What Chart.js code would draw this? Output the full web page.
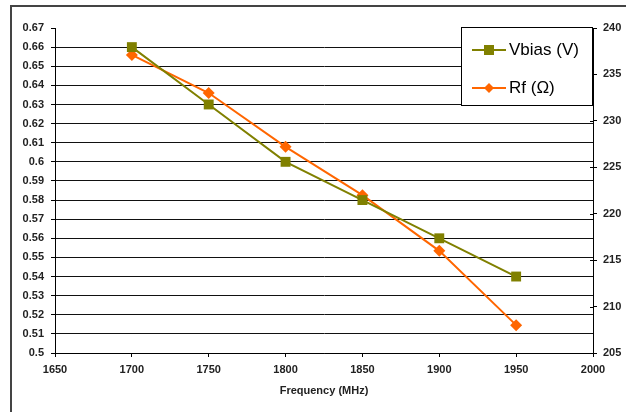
<!DOCTYPE html>
<html>
<head>
<meta charset="utf-8">
<script src="https://cdn.jsdelivr.net/npm/chart.js@4.4.0/dist/chart.umd.min.js"></script>
<style>
  html, body { margin: 0; padding: 0; background: #fff; overflow: hidden; }
  #wrap { position: relative; width: 626px; height: 412px; overflow: hidden; }
  #frame { position: absolute; left: 10px; top: 5px; width: 700px; height: 500px; border: 2px solid #444; box-sizing: border-box; }
  canvas { position: absolute; left: 0; top: 0; }
  #legend { position: absolute; left: 461px; top: 27px; width: 132px; height: 79px; background: #fff; border: 1px solid #000; box-sizing: border-box; font-family: "Liberation Sans", Arial, sans-serif; font-size: 17px; color: #000; }
  .item { position: absolute; left: 10px; height: 20px; display: flex; align-items: center; }
  .item canvas { position: static; }
  .item span { margin-left: 3px; white-space: nowrap; }
</style>
</head>
<body>
<div id="wrap">
  <div id="frame"></div>
  <canvas id="c" width="626" height="412"></canvas>
  <div id="legend"></div>
</div>
<script>
const frequencies = [1700, 1750, 1800, 1850, 1900, 1950];
const vbias = [0.66, 0.63, 0.60, 0.58, 0.56, 0.54];
const rf = [237.1, 233.0, 227.2, 222.0, 216.0, 208.0];
const seriesNames = ["Vbias (V)", "Rf (\u03A9)"];
const seriesColors = ["#808000", "#FF6600"];
const xTicks = [1650, 1700, 1750, 1800, 1850, 1900, 1950, 2000];
const leftTicks = [0.5, 0.51, 0.52, 0.53, 0.54, 0.55, 0.56, 0.57, 0.58, 0.59, 0.6, 0.61, 0.62, 0.63, 0.64, 0.65, 0.66, 0.67];
const rightTicks = [205, 210, 215, 220, 225, 230, 235, 240];
const xTitle = "Frequency (MHz)";

const tickFont = { family: "'Liberation Sans', Arial, sans-serif", size: 11, weight: 'bold' };

// small plugin: right-axis tick marks also cross into the plot area
const crossTicks = {
  id: 'crossTicks',
  afterDraw(chart) {
    const s = chart.scales.y2, ctx = chart.ctx;
    ctx.save();
    ctx.strokeStyle = '#000'; ctx.lineWidth = 1;
    s.ticks.forEach(t => {
      const y = Math.round(s.getPixelForValue(t.value)) + 0.5;
      ctx.beginPath(); ctx.moveTo(s.left - 3, y); ctx.lineTo(s.left, y); ctx.stroke();
    });
    ctx.restore();
  }
};

const chart = new Chart(document.getElementById('c'), {
  type: 'line',
  data: {
    datasets: [
      {
        label: seriesNames[0],
        data: frequencies.map((f, i) => ({ x: f, y: vbias[i] })),
        yAxisID: 'y',
        borderColor: seriesColors[0],
        backgroundColor: seriesColors[0],
        borderWidth: 2,
        pointStyle: 'rect',
        pointRadius: 7,
        pointHoverRadius: 7,
        pointBorderWidth: 0,
        tension: 0
      },
      {
        label: seriesNames[1],
        data: frequencies.map((f, i) => ({ x: f, y: rf[i] })),
        yAxisID: 'y2',
        borderColor: seriesColors[1],
        backgroundColor: seriesColors[1],
        borderWidth: 2,
        pointStyle: 'rectRot',
        pointRadius: 6,
        pointHoverRadius: 6,
        pointBorderWidth: 0,
        tension: 0
      }
    ]
  },
  plugins: [crossTicks],
  options: {
    responsive: false,
    animation: false,
    events: [],
    layout: { padding: { left: 0, right: 0, top: 28, bottom: 0 } },
    plugins: { legend: { display: false }, tooltip: { enabled: false } },
    scales: {
      x: {
        type: 'linear',
        min: xTicks[0],
        max: xTicks[xTicks.length - 1],
        afterBuildTicks: s => { s.ticks = xTicks.map(v => ({ value: v })); },
        afterFit: s => { s.height = 59; },
        grid: { drawOnChartArea: false, drawTicks: true, tickLength: 4, color: '#000', tickColor: '#000' },
        border: { display: true, color: '#000', width: 1 },
        ticks: { color: '#222', font: tickFont, padding: 6, maxRotation: 0, autoSkip: false, callback: v => String(v) },
        title: { display: true, text: xTitle, color: '#222', font: tickFont, padding: { top: 4, bottom: 14 } }
      },
      y: {
        type: 'linear',
        position: 'left',
        min: leftTicks[0],
        max: leftTicks[leftTicks.length - 1],
        afterBuildTicks: s => { s.ticks = leftTicks.map(v => ({ value: v })); },
        afterFit: s => { s.width = 55; },
        grid: {
          drawOnChartArea: true,
          drawTicks: true,
          tickLength: 4,
          color: c => (c.tick && Math.abs(c.tick.value - leftTicks[leftTicks.length - 1]) < 1e-9) ? 'rgba(0,0,0,0)' : '#111',
          tickColor: '#000',
          lineWidth: 1
        },
        border: { display: true, color: '#000', width: 1 },
        ticks: { color: '#222', font: tickFont, padding: 7, autoSkip: false, callback: v => String(Math.round(v * 100) / 100) }
      },
      y2: {
        type: 'linear',
        position: 'right',
        min: rightTicks[0],
        max: rightTicks[rightTicks.length - 1],
        afterBuildTicks: s => { s.ticks = rightTicks.map(v => ({ value: v })); },
        afterFit: s => { s.width = 33; },
        grid: { drawOnChartArea: false, drawTicks: true, tickLength: 4, color: '#000', tickColor: '#000' },
        border: { display: true, color: '#000', width: 1 },
        ticks: { color: '#222', font: tickFont, padding: 6, autoSkip: false, callback: v => String(v) }
      }
    }
  }
});

// HTML legend built from the datasets
const legend = document.getElementById('legend');
chart.data.datasets.forEach((ds, i) => {
  const item = document.createElement('div');
  item.className = 'item';
  item.style.top = (i === 0 ? 12 : 50) + 'px';
  const sw = document.createElement('canvas');
  sw.width = 34; sw.height = 20;
  const g = sw.getContext('2d');
  g.strokeStyle = ds.borderColor; g.lineWidth = 2;
  g.beginPath(); g.moveTo(0, 10); g.lineTo(34, 10); g.stroke();
  g.fillStyle = ds.backgroundColor;
  if (ds.pointStyle === 'rect') { g.fillRect(12, 5, 10, 10); }
  else { g.beginPath(); g.moveTo(17, 5); g.lineTo(22, 10); g.lineTo(17, 15); g.lineTo(12, 10); g.closePath(); g.fill(); }
  const t = document.createElement('span');
  t.textContent = ds.label;
  item.appendChild(sw); item.appendChild(t);
  legend.appendChild(item);
});
</script>
</body>
</html>
